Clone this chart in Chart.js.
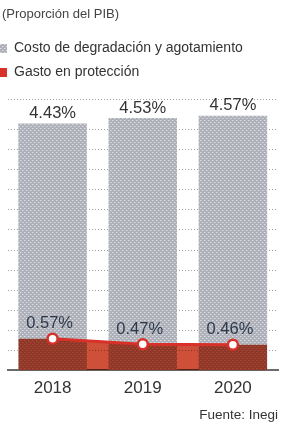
<!DOCTYPE html>
<html>
<head>
<meta charset="utf-8">
<script src="https://cdn.jsdelivr.net/npm/chart.js@4.4.1/dist/chart.umd.min.js"></script>
<style>
  html, body { margin: 0; padding: 0; background: #fff; }
  #wrap { width: 292px; height: 424px; }
</style>
</head>
<body>
<div id="wrap"><canvas id="grafica"></canvas></div>
<script>
// datos (Proporción del PIB)
const years = ['2018', '2019', '2020'];
const costoDegradacion = [4.43, 4.53, 4.57];
const gastoProteccion = [0.57, 0.47, 0.46];
const seriesNames = ['Costo de degradación y agotamiento', 'Gasto en protección'];
const titleText = '(Proporción del PIB)';
const sourceText = 'Fuente: Inegi';

const FONT = '"Liberation Sans", Arial, sans-serif';
const barPct = 0.76;
const canvas = document.getElementById('grafica');

// textura punteada de las barras grises
function dotPattern() {
  const c = document.createElement('canvas');
  c.width = 4; c.height = 4;
  const g = c.getContext('2d');
  g.fillStyle = '#aeb1ba';
  g.fillRect(0, 0, 4, 4);
  g.fillStyle = '#dcdee3';
  g.fillRect(0, 0, 1, 1);
  g.fillRect(2, 2, 1, 1);
  g.fillStyle = '#c4c6cc';
  g.fillRect(1, 0, 1, 1);
  g.fillRect(3, 2, 1, 1);
  return canvas.getContext('2d').createPattern(c, 'repeat');
}

// area roja que llega hasta los bordes de las barras
const n = gastoProteccion.length;
const areaData = gastoProteccion.map((v, i) => ({ x: i, y: v }));
areaData.unshift({ x: -barPct / 2, y: gastoProteccion[0] });
areaData.push({ x: n - 1 + barPct / 2, y: gastoProteccion[n - 1] });

// el relleno del area se pinta en modo multiply sobre las barras
const multiplicar = {
  id: 'multiplicar',
  afterDatasetDraw(chart, args) {
    if (args.index === 0) {
      chart.ctx.save();
      chart.ctx.globalCompositeOperation = 'multiply';
    }
    if (args.index === 1) chart.ctx.restore();
  }
};

const legendShift = {
  id: 'legendShift',
  beforeInit(chart) {
    const fit = chart.legend.fit;
    chart.legend.fit = function () {
      fit.bind(chart.legend)();
      this.height += 10;
    };
  },
  afterLayout(chart) {
    chart.legend.left -= 12;
  }
};

const etiquetas = {
  id: 'etiquetas',
  afterDatasetsDraw(chart) {
    const ctx = chart.ctx;
    ctx.save();
    ctx.textAlign = 'center';
    ctx.textBaseline = 'middle';
    ctx.font = '16.5px ' + FONT;
    ctx.fillStyle = '#333';
    chart.getDatasetMeta(0).data.forEach((bar, i) => {
      ctx.fillText(costoDegradacion[i].toFixed(2) + '%', bar.x, bar.y - 10);
    });
    ctx.fillStyle = '#2d3a4b';
    chart.getDatasetMeta(2).data.forEach((pt, i) => {
      ctx.fillText(gastoProteccion[i].toFixed(2) + '%', pt.x - 3, pt.y - 15);
    });
    ctx.restore();
  }
};

new Chart(canvas, {
  type: 'bar',
  data: {
    labels: years,
    datasets: [{
      label: seriesNames[0],
      data: costoDegradacion,
      backgroundColor: dotPattern(),
      barPercentage: barPct,
      categoryPercentage: 1,
      grouped: false,
      order: 3
    }, {
      type: 'line',
      label: 'area',
      data: areaData,
      xAxisID: 'xArea',
      fill: 'origin',
      backgroundColor: 'rgb(206, 80, 56)',
      borderWidth: 0,
      pointRadius: 0,
      tension: 0,
      order: 2
    }, {
      type: 'line',
      label: seriesNames[1],
      data: gastoProteccion,
      borderColor: '#d8312a',
      backgroundColor: '#d8312a',
      borderWidth: 3,
      pointRadius: 5,
      pointBackgroundColor: '#fff',
      pointBorderColor: '#d8312a',
      pointBorderWidth: 2.5,
      fill: false,
      tension: 0,
      order: 1
    }]
  },
  options: {
    responsive: true,
    maintainAspectRatio: false,
    animation: false,
    layout: { padding: { left: 2, right: 14, top: 0, bottom: 0 } },
    scales: {
      x: {
        grid: { display: false, drawTicks: false },
        border: { display: true, color: '#6b6b6b', width: 2 },
        ticks: { color: '#333', font: { size: 17, family: FONT }, padding: 8 }
      },
      xArea: {
        type: 'linear',
        display: false,
        offset: false,
        grid: { offset: false },
        min: -0.5,
        max: n - 0.5
      },
      y: {
        min: 0,
        max: 4.86,
        afterFit: (scale) => { scale.width = 0; },
        ticks: { display: false, stepSize: 0.36 },
        grid: { color: '#a0a0a0', drawTicks: false, lineWidth: 1 },
        border: { display: false, dash: [1, 2] }
      }
    },
    plugins: {
      title: {
        display: true,
        text: titleText,
        align: 'start',
        color: '#444',
        font: { size: 13, weight: 'normal', family: FONT },
        padding: { top: 7, bottom: 9 }
      },
      subtitle: {
        display: true,
        text: sourceText,
        position: 'bottom',
        align: 'end',
        color: '#333',
        font: { size: 13.5, family: FONT },
        padding: { top: 0, bottom: 1 }
      },
      legend: {
        position: 'top',
        align: 'start',
        labels: {
          boxWidth: 7,
          boxHeight: 9,
          padding: 10,
          color: '#333',
          font: { size: 14, family: FONT },
          sort: (a, b) => a.datasetIndex - b.datasetIndex,
          filter: (item) => item.datasetIndex !== 1,
          generateLabels(chart) {
            return Chart.defaults.plugins.legend.labels.generateLabels(chart).map((it) => {
              it.lineWidth = 0;
              return it;
            });
          }
        }
      },
      tooltip: { enabled: false }
    }
  },
  plugins: [multiplicar, legendShift, etiquetas]
});
</script>
</body>
</html>
